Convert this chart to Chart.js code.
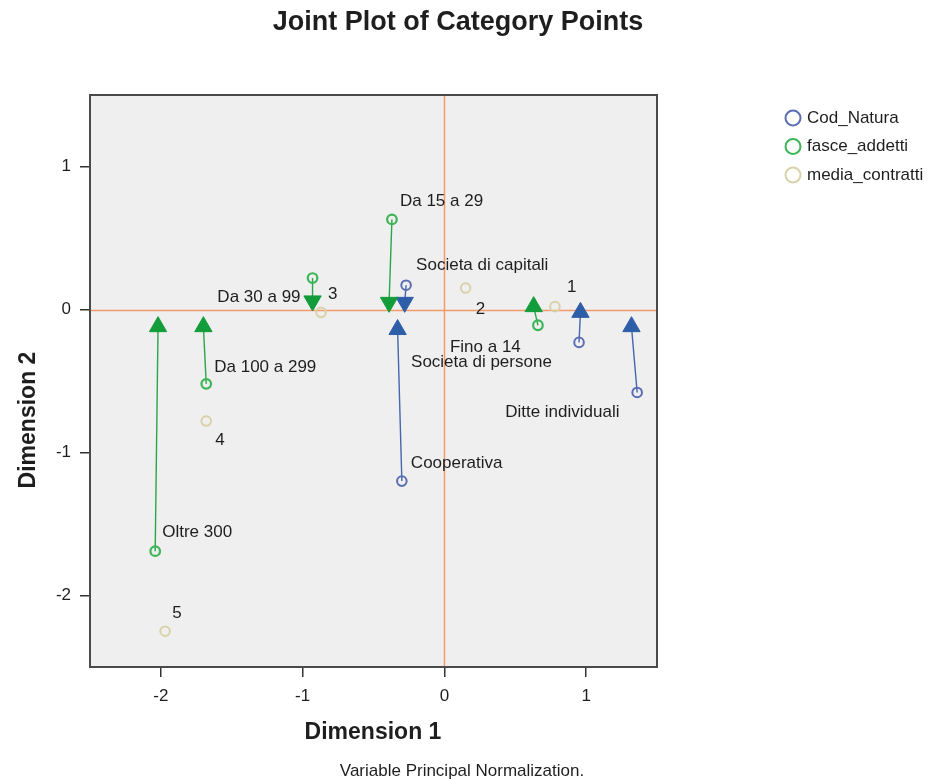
<!DOCTYPE html>
<html><head><meta charset="utf-8">
<script src="https://cdn.jsdelivr.net/npm/chart.js@4"></script>
<style>html,body{margin:0;padding:0;background:#fff;overflow:hidden}</style>
</head><body>
<canvas id="c" width="937" height="779"></canvas>
<script>
// ---- data ----
const codNames = ['Societa di capitali', 'Societa di persone', 'Cooperativa', 'Ditte individuali'];
const codX = [-0.27, 0.95, -0.30, 1.36];
const codY = [0.17, -0.23, -1.20, -0.58];
const codArrowX = [-0.28, 0.96, -0.33, 1.32];
const codArrowY = [0.05, -0.02, -0.14, -0.12];

const fasceNames = ['Fino a 14', 'Da 15 a 29', 'Da 30 a 99', 'Da 100 a 299', 'Oltre 300'];
const fasceX = [0.66, -0.37, -0.93, -1.68, -2.04];
const fasceY = [-0.11, 0.63, 0.22, -0.52, -1.69];
const fasceArrowX = [0.63, -0.39, -0.93, -1.70, -2.02];
const fasceArrowY = [0.02, 0.05, 0.06, -0.12, -0.12];

const mediaNames = ['1', '2', '3', '4', '5'];
const mediaX = [0.78, 0.15, -0.87, -1.68, -1.97];
const mediaY = [0.02, 0.15, -0.02, -0.78, -2.25];

const axisTicks = [-2, -1, 0, 1];
const legendNames = ['Cod_Natura', 'fasce_addetti', 'media_contratti'];

// ---- styles ----
const COL = {
  codCircle: '#5b6db3', codTri: '#2f5ea8', codLine: '#4467ad',
  fasCircle: '#3cb458', fasTri: '#129c3a', fasLine: '#2aa64a',
  medCircle: '#d9d1a9', zero: '#f39a6c', frame: '#4a4a4a', bg: '#efefef', text: '#1e1e1e'
};
// label offsets (pixels from circle centre): [dx, dy, align]
const codLabelOff = [[10,-20,'left'],[-168,20,'left'],[9,-18,'left'],[-132,20,'left']];
const fasLabelOff = [[-88,22,'left'],[8,-18,'left'],[-12,19,'right'],[8,-17,'left'],[7,-19,'left']];
const medLabelOff = [[12,-19,'left'],[10,21,'left'],[7,-18,'left'],[9,19,'left'],[7,-18,'left']];

const pts = (xs, ys) => xs.map((x, i) => ({x, y: ys[i]}));
const FONT = '"Liberation Sans", Arial, sans-serif';

const datasets = [];
// triangles (on top); they point away from their category circle
function triDataset(xs, ys, cy, color) {
  return {
    type: 'scatter', data: pts(xs, ys), pointStyle: 'triangle', pointRadius: 10, pointHoverRadius: 10,
    pointRotation: ctx => (ys[ctx.dataIndex] > cy[ctx.dataIndex] ? 0 : 180),
    backgroundColor: color, borderColor: color, borderWidth: 1
  };
}
datasets.push(triDataset(fasceArrowX, fasceArrowY, fasceY, COL.fasTri));
datasets.push(triDataset(codArrowX, codArrowY, codY, COL.codTri));
// circles
function circleDataset(xs, ys, color, lw) {
  return {
    type: 'scatter', data: pts(xs, ys), pointStyle: 'circle', pointRadius: 4.8, pointHoverRadius: 4.8,
    backgroundColor: 'rgba(0,0,0,0)', borderColor: color, pointBorderWidth: lw
  };
}
datasets.push(circleDataset(codX, codY, COL.codCircle, 2));
datasets.push(circleDataset(fasceX, fasceY, COL.fasCircle, 2.2));
datasets.push(circleDataset(mediaX, mediaY, COL.medCircle, 2));
// connecting lines (drawn first)
function lineDatasets(xs, ys, axs, ays, color) {
  xs.forEach((x, i) => datasets.push({
    type: 'line', data: [{x, y: ys[i]}, {x: axs[i], y: ays[i]}],
    borderColor: color, borderWidth: 1.4, pointRadius: 0, fill: false, tension: 0
  }));
}
lineDatasets(fasceX, fasceY, fasceArrowX, fasceArrowY, COL.fasLine);
lineDatasets(codX, codY, codArrowX, codArrowY, COL.codLine);

const deco = {
  id: 'deco',
  beforeDatasetsDraw(chart) {
    const {ctx, chartArea: a, scales: {x, y}} = chart;
    ctx.save();
    ctx.fillStyle = COL.bg;
    ctx.fillRect(a.left, a.top, a.right - a.left, a.bottom - a.top);
    ctx.strokeStyle = COL.zero; ctx.lineWidth = 1.5;
    const x0 = Math.round(x.getPixelForValue(0)) + 0.5, y0 = Math.round(y.getPixelForValue(0)) + 0.5;
    ctx.beginPath(); ctx.moveTo(x0, a.top); ctx.lineTo(x0, a.bottom);
    ctx.moveTo(a.left, y0); ctx.lineTo(a.right, y0); ctx.stroke();
    ctx.restore();
  },
  afterDatasetsDraw(chart) {
    const {ctx, chartArea: a, scales: {x, y}} = chart;
    ctx.save();
    ctx.strokeStyle = COL.frame; ctx.lineWidth = 2;
    ctx.strokeRect(a.left, a.top, a.right - a.left, a.bottom - a.top);
    ctx.fillStyle = COL.text; ctx.font = '17px ' + FONT; ctx.textBaseline = 'middle';
    const lab = (names, xs, ys, off) => names.forEach((n, i) => {
      ctx.textAlign = off[i][2];
      ctx.fillText(n, x.getPixelForValue(xs[i]) + off[i][0], y.getPixelForValue(ys[i]) + off[i][1]);
    });
    lab(codNames, codX, codY, codLabelOff);
    lab(fasceNames, fasceX, fasceY, fasLabelOff);
    lab(mediaNames, mediaX, mediaY, medLabelOff);
    ctx.restore();
  },
  afterDraw(chart) {
    const ctx = chart.ctx;
    ctx.save();
    ctx.fillStyle = COL.text; ctx.textBaseline = 'middle'; ctx.textAlign = 'center';
    ctx.font = 'bold 27px ' + FONT;
    ctx.fillText('Joint Plot of Category Points', 458, 23);
    ctx.font = 'bold 23px ' + FONT;
    ctx.fillText('Dimension 1', 373, 733);
    ctx.save(); ctx.translate(29, 420); ctx.rotate(-Math.PI / 2);
    ctx.fillText('Dimension 2', 0, 0); ctx.restore();
    ctx.font = '17px ' + FONT;
    ctx.fillText('Variable Principal Normalization.', 462, 771);
    // legend
    const lc = [COL.codCircle, COL.fasCircle, COL.medCircle];
    ctx.textAlign = 'left';
    legendNames.forEach((n, i) => {
      const yy = 118 + i * 28.5;
      ctx.strokeStyle = lc[i]; ctx.lineWidth = 2;
      ctx.beginPath(); ctx.arc(793, yy, 7.5, 0, Math.PI * 2); ctx.stroke();
      ctx.fillStyle = COL.text; ctx.fillText(n, 807, yy);
    });
    ctx.restore();
  }
};

const tickOpts = {
  font: {family: FONT, size: 17}, color: COL.text, padding: 9,
  callback: v => String(v)
};
new Chart(document.getElementById('c'), {
  type: 'scatter',
  data: {datasets},
  options: {
    responsive: false, animation: false, devicePixelRatio: 1,
    layout: {padding: {top: 95, right: 280, left: 0, bottom: 0}},
    plugins: {legend: {display: false}, tooltip: {enabled: false}, title: {display: false}},
    scales: {
      x: {
        type: 'linear', min: -2.5, max: 1.5,
        afterBuildTicks: s => { s.ticks = axisTicks.map(v => ({value: v})); },
        afterFit: s => { s.height = 112; },
        ticks: tickOpts,
        grid: {drawOnChartArea: false, drawTicks: true, tickLength: 10, tickColor: '#333', lineWidth: 1.5},
        border: {display: false}
      },
      y: {
        type: 'linear', min: -2.5, max: 1.5,
        afterBuildTicks: s => { s.ticks = axisTicks.map(v => ({value: v})); },
        afterFit: s => { s.width = 90; },
        ticks: tickOpts,
        grid: {drawOnChartArea: false, drawTicks: true, tickLength: 10, tickColor: '#333', lineWidth: 1.5},
        border: {display: false}
      }
    }
  },
  plugins: [deco]
});
</script>
</body></html>
